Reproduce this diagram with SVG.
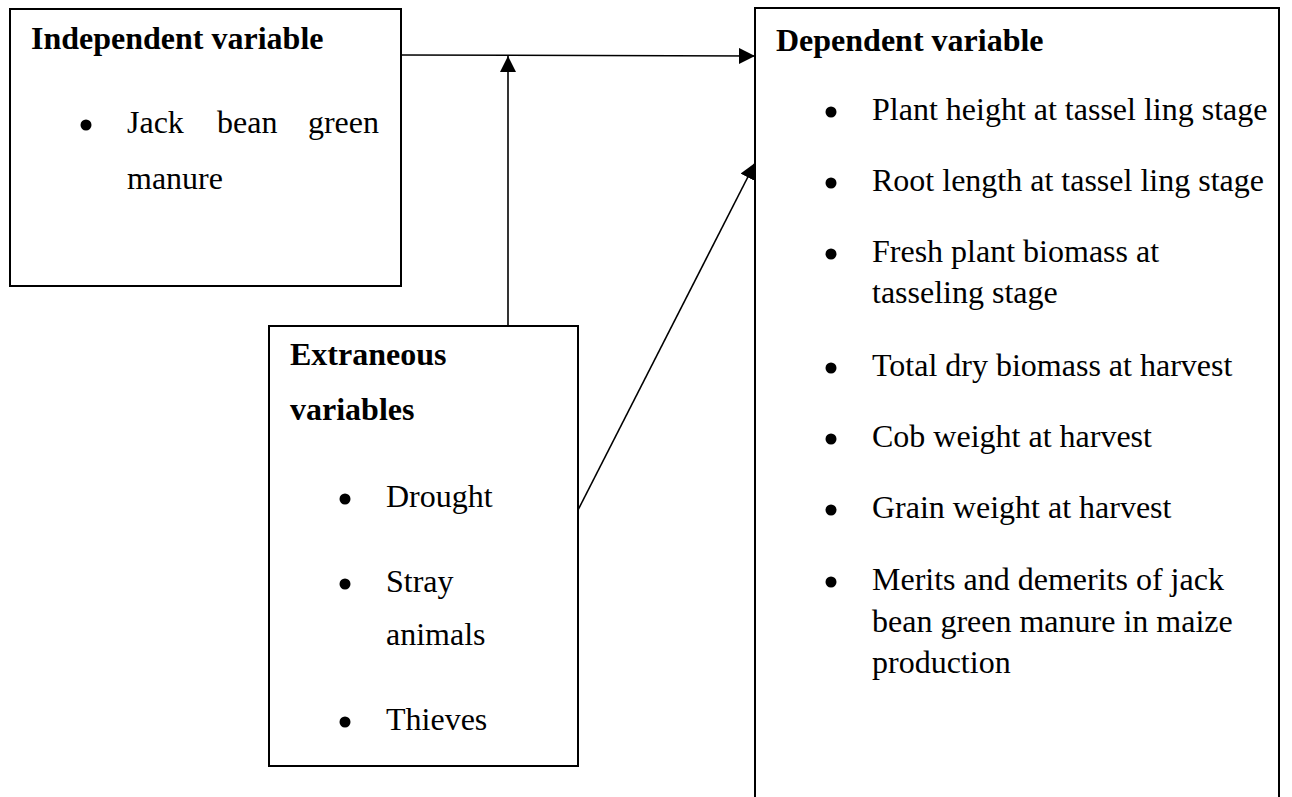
<svg xmlns="http://www.w3.org/2000/svg" width="1292" height="797" viewBox="0 0 1292 797">
<style>
.box{fill:#fff;stroke:#000;stroke-width:2}
.h{font-family:"Liberation Serif","Times New Roman",serif;font-size:32px;font-weight:bold;fill:#000}
.t{font-family:"Liberation Serif","Times New Roman",serif;font-size:32px;fill:#000}
.b{fill:#000}
.c{stroke:#000;stroke-width:1.6;fill:none}
</style>
<defs>
<marker id="ah" markerUnits="userSpaceOnUse" markerWidth="16" markerHeight="16" refX="16" refY="8" orient="auto">
<path d="M0,0 L16,8 L0,16 Z" fill="#000"/>
</marker>
</defs>
<rect width="1292" height="797" fill="#fff"/>
<g id="independent">
<rect class="box" x="10" y="9" width="391" height="277"/>
<text class="h" x="31" y="49">Independent variable</text>
<circle class="b" cx="86" cy="125" r="5.5"/>
<text class="t" x="127" y="133">Jack</text>
<text class="t" x="217" y="133">bean</text>
<text class="t" x="379" y="133" text-anchor="end">green</text>
<text class="t" x="127" y="189">manure</text>
</g>
<g id="extraneous">
<rect class="box" x="269" y="326" width="309" height="440"/>
<text class="h" x="290" y="365">Extraneous</text>
<text class="h" x="290" y="420">variables</text>
<circle class="b" cx="345" cy="499" r="5.5"/>
<text class="t" x="386" y="507">Drought</text>
<circle class="b" cx="345" cy="584" r="5.5"/>
<text class="t" x="386" y="592">Stray</text>
<text class="t" x="386" y="645">animals</text>
<circle class="b" cx="345" cy="722" r="5.5"/>
<text class="t" x="386" y="730">Thieves</text>
</g>
<g id="dependent">
<rect class="box" x="755" y="8" width="524" height="810"/>
<text class="h" x="776" y="51">Dependent variable</text>
<circle class="b" cx="831" cy="112" r="5.5"/>
<text class="t" x="872" y="120">Plant height at tassel ling stage</text>
<circle class="b" cx="831" cy="183" r="5.5"/>
<text class="t" x="872" y="191">Root length at tassel ling stage</text>
<circle class="b" cx="831" cy="254" r="5.5"/>
<text class="t" x="872" y="262">Fresh plant biomass at</text>
<text class="t" x="872" y="303">tasseling stage</text>
<circle class="b" cx="831" cy="368" r="5.5"/>
<text class="t" x="872" y="376">Total dry biomass at harvest</text>
<circle class="b" cx="831" cy="439" r="5.5"/>
<text class="t" x="872" y="447">Cob weight at harvest</text>
<circle class="b" cx="831" cy="510" r="5.5"/>
<text class="t" x="872" y="518">Grain weight at harvest</text>
<circle class="b" cx="831" cy="582" r="5.5"/>
<text class="t" x="872" y="590">Merits and demerits of jack</text>
<text class="t" x="872" y="632">bean green manure in maize</text>
<text class="t" x="872" y="673">production</text>
</g>
<g id="connectors">
<line class="c" x1="401" y1="55" x2="755" y2="56" marker-end="url(#ah)"/>
<line class="c" x1="508" y1="326" x2="508" y2="56" marker-end="url(#ah)"/>
<line class="c" x1="578" y1="510" x2="755" y2="163" marker-end="url(#ah)"/>
</g>
</svg>
